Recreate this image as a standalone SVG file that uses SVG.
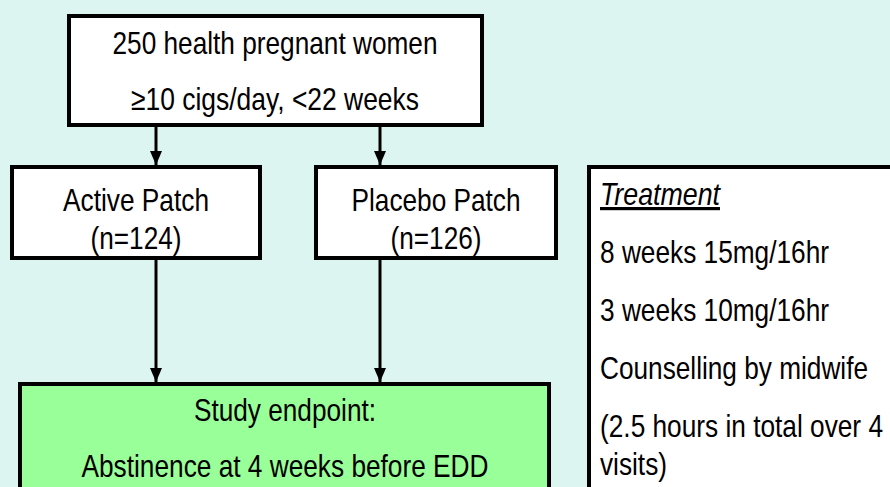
<svg xmlns="http://www.w3.org/2000/svg" width="890" height="487" viewBox="0 0 890 487">
<defs>
<marker id="ah" markerUnits="userSpaceOnUse" markerWidth="14" markerHeight="12" refX="14" refY="6" orient="auto">
<path d="M0,0 L14,6 L0,12 Z" fill="#000"/>
</marker>
<style>
.box{fill:#fff;stroke:#000;stroke-width:4}
.green{fill:#99ff99;stroke:#000;stroke-width:4}
.t{font-family:"Liberation Sans",Arial,sans-serif;font-size:32px;fill:#000}
.c{text-anchor:middle}
.conn{stroke:#000;stroke-width:3;fill:none;marker-end:url(#ah)}
</style>
</defs>
<rect x="0" y="0" width="890" height="487" fill="#dcf5f0"/>
<g id="connectors">
<line class="conn" x1="156" y1="127" x2="156" y2="165"/>
<line class="conn" x1="380" y1="127" x2="380" y2="165"/>
<line class="conn" x1="156" y1="260" x2="156" y2="382"/>
<line class="conn" x1="380" y1="260" x2="380" y2="382"/>
</g>
<g id="top">
<rect class="box" x="69" y="16" width="413" height="109"/>
<text class="t c" x="275" y="54" textLength="325" lengthAdjust="spacingAndGlyphs">250 health pregnant women</text>
<text class="t c" x="275" y="110" textLength="288" lengthAdjust="spacingAndGlyphs">≥10 cigs/day, &lt;22 weeks</text>
</g>
<g id="active">
<rect class="box" x="12" y="167" width="248" height="91"/>
<text class="t c" x="136" y="211" textLength="146" lengthAdjust="spacingAndGlyphs">Active Patch</text>
<text class="t c" x="136" y="249" textLength="91" lengthAdjust="spacingAndGlyphs">(n=124)</text>
</g>
<g id="placebo">
<rect class="box" x="316" y="167" width="240" height="91"/>
<text class="t c" x="436" y="211" textLength="169" lengthAdjust="spacingAndGlyphs">Placebo Patch</text>
<text class="t c" x="436" y="249" textLength="91" lengthAdjust="spacingAndGlyphs">(n=126)</text>
</g>
<g id="endpoint">
<rect class="green" x="20" y="384" width="529" height="120"/>
<text class="t c" x="285" y="421" textLength="182" lengthAdjust="spacingAndGlyphs">Study endpoint:</text>
<text class="t c" x="285" y="477" textLength="407" lengthAdjust="spacingAndGlyphs">Abstinence at 4 weeks before EDD</text>
</g>
<g id="treatment">
<rect class="box" x="589" y="167" width="320" height="340"/>
<text class="t" x="600" y="205" font-style="italic" text-decoration="underline" textLength="120" lengthAdjust="spacingAndGlyphs">Treatment</text>
<text class="t" x="600" y="263" textLength="229" lengthAdjust="spacingAndGlyphs">8 weeks 15mg/16hr</text>
<text class="t" x="600" y="321" textLength="229" lengthAdjust="spacingAndGlyphs">3 weeks 10mg/16hr</text>
<text class="t" x="600" y="379" textLength="268" lengthAdjust="spacingAndGlyphs">Counselling by midwife</text>
<text class="t" x="600" y="437" textLength="283" lengthAdjust="spacingAndGlyphs">(2.5 hours in total over 4</text>
<text class="t" x="600" y="475" textLength="67" lengthAdjust="spacingAndGlyphs">visits)</text>
</g>
</svg>
